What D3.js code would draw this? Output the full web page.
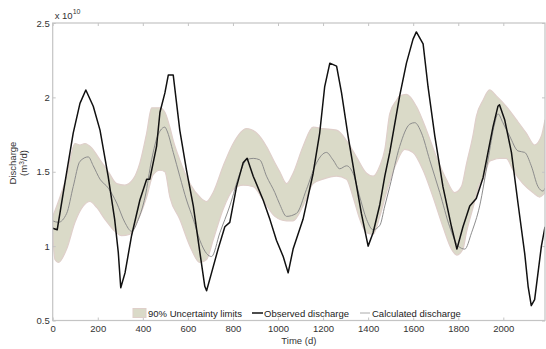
<!DOCTYPE html>
<html>
<head>
<meta charset="utf-8">
<script src="https://cdn.jsdelivr.net/npm/d3@7"></script>
<style>
  body { margin: 0; background: #fff; }
  text { font-family: "Liberation Sans", Arial, sans-serif; }
</style>
</head>
<body>
<svg id="chart" width="546" height="349"></svg>
<script>
// values in units of 1e10 m3/d
const obsDays = [0, 20, 47, 91, 121, 147, 180, 210, 246, 275, 291, 302, 321, 350, 387, 417, 431, 461, 476, 498, 513, 535, 564, 594, 624, 653, 675, 683, 705, 734, 764, 786, 816, 845, 863, 890, 934, 964, 993, 1023, 1045, 1067, 1111, 1156, 1185, 1207, 1230, 1260, 1282, 1311, 1341, 1370, 1400, 1422, 1452, 1474, 1496, 1540, 1570, 1599, 1614, 1644, 1666, 1696, 1732, 1770, 1794, 1821, 1851, 1880, 1910, 1932, 1954, 1976, 1983, 2006, 2036, 2065, 2095, 2110, 2124, 2139, 2154, 2169, 2185];
const obsVals = [1.12, 1.11, 1.36, 1.76, 1.96, 2.05, 1.94, 1.78, 1.47, 1.18, 0.96, 0.72, 0.82, 1.07, 1.31, 1.45, 1.45, 1.67, 1.90, 2.03, 2.15, 2.15, 1.78, 1.51, 1.27, 0.96, 0.73, 0.70, 0.82, 0.98, 1.13, 1.16, 1.40, 1.56, 1.59, 1.47, 1.31, 1.18, 1.04, 0.93, 0.82, 0.98, 1.18, 1.49, 1.76, 2.07, 2.23, 2.21, 2.03, 1.74, 1.47, 1.22, 1.00, 1.09, 1.28, 1.47, 1.63, 2.01, 2.23, 2.39, 2.44, 2.36, 2.07, 1.74, 1.40, 1.13, 0.98, 1.13, 1.27, 1.32, 1.46, 1.63, 1.80, 1.94, 1.95, 1.85, 1.63, 1.29, 0.95, 0.73, 0.60, 0.64, 0.82, 1.00, 1.13];

const calcDays = [0, 25, 62, 91, 121, 158, 180, 210, 247, 284, 320, 350, 380, 410, 439, 468, 498, 506, 535, 564, 594, 624, 653, 683, 705, 742, 786, 831, 860, 890, 919, 949, 986, 1008, 1038, 1082, 1126, 1171, 1215, 1244, 1274, 1304, 1333, 1363, 1393, 1422, 1452, 1474, 1496, 1540, 1585, 1607, 1637, 1673, 1718, 1762, 1800, 1829, 1859, 1895, 1932, 1961, 1976, 1998, 2028, 2065, 2095, 2124, 2154, 2176, 2185];
const calcVals = [1.17, 1.16, 1.22, 1.40, 1.57, 1.60, 1.54, 1.45, 1.39, 1.29, 1.16, 1.10, 1.18, 1.33, 1.58, 1.75, 1.80, 1.78, 1.63, 1.47, 1.31, 1.18, 1.04, 0.95, 0.93, 1.09, 1.27, 1.49, 1.58, 1.59, 1.58, 1.47, 1.36, 1.28, 1.20, 1.22, 1.38, 1.56, 1.63, 1.58, 1.52, 1.54, 1.49, 1.33, 1.18, 1.11, 1.14, 1.27, 1.40, 1.67, 1.82, 1.83, 1.76, 1.58, 1.36, 1.13, 1.00, 0.98, 1.09, 1.27, 1.58, 1.82, 1.89, 1.83, 1.74, 1.64, 1.63, 1.54, 1.40, 1.37, 1.39];

const upperDays = [0, 18, 62, 99, 121, 143, 173, 210, 247, 284, 320, 357, 387, 417, 439, 476, 498, 520, 535, 564, 609, 653, 683, 712, 757, 801, 860, 905, 949, 986, 1008, 1038, 1067, 1111, 1156, 1200, 1260, 1304, 1348, 1393, 1422, 1452, 1474, 1496, 1526, 1540, 1570, 1614, 1659, 1703, 1747, 1784, 1814, 1836, 1866, 1880, 1910, 1939, 1969, 2013, 2058, 2102, 2139, 2169, 2185];
const upperVals = [1.20, 1.27, 1.47, 1.69, 1.68, 1.69, 1.66, 1.58, 1.50, 1.42, 1.41, 1.45, 1.56, 1.76, 1.93, 1.93, 1.90, 1.80, 1.71, 1.58, 1.42, 1.33, 1.30, 1.36, 1.54, 1.69, 1.79, 1.76, 1.67, 1.56, 1.50, 1.42, 1.49, 1.67, 1.80, 1.79, 1.78, 1.71, 1.60, 1.49, 1.47, 1.54, 1.65, 1.89, 1.98, 2.01, 2.02, 1.94, 1.78, 1.60, 1.45, 1.36, 1.40, 1.55, 1.75, 1.87, 1.98, 2.05, 2.01, 1.94, 1.85, 1.76, 1.68, 1.74, 1.85];

const lowerDays = [0, 10, 25, 62, 99, 136, 165, 195, 232, 269, 306, 343, 380, 417, 446, 476, 498, 520, 564, 609, 653, 683, 712, 757, 801, 845, 890, 934, 986, 1038, 1067, 1111, 1156, 1200, 1260, 1304, 1333, 1363, 1393, 1422, 1452, 1481, 1526, 1562, 1599, 1644, 1688, 1732, 1770, 1794, 1821, 1836, 1866, 1895, 1910, 1939, 1954, 1983, 2013, 2043, 2087, 2131, 2161, 2185];
const lowerVals = [1.09, 0.91, 0.89, 0.98, 1.16, 1.27, 1.30, 1.26, 1.18, 1.11, 1.07, 1.08, 1.18, 1.33, 1.48, 1.51, 1.50, 1.33, 1.18, 1.00, 0.89, 0.91, 1.04, 1.25, 1.38, 1.41, 1.40, 1.31, 1.20, 1.17, 1.17, 1.27, 1.42, 1.45, 1.47, 1.45, 1.33, 1.18, 1.09, 1.08, 1.20, 1.36, 1.56, 1.65, 1.63, 1.51, 1.33, 1.13, 0.98, 0.94, 0.98, 1.09, 1.26, 1.42, 1.45, 1.57, 1.58, 1.59, 1.59, 1.51, 1.42, 1.36, 1.33, 1.36];

const xTicks = [0, 200, 400, 600, 800, 1000, 1200, 1400, 1600, 1800, 2000];
const yTicks = [0.5, 1, 1.5, 2, 2.5];
const legendLabels = ["90% Uncertainty limits", "Observed discharge", "Calculated discharge"];

const mLeft = 52.7, mRight = 545, mTop = 23, mBottom = 320.5;
const svg = d3.select("#chart");

const x = d3.scaleLinear().domain([0, 2185]).range([mLeft, mRight]);
const y = d3.scaleLinear().domain([0.5, 2.5]).range([mBottom, mTop]);

svg.append("clipPath").attr("id", "clip")
  .append("rect").attr("x", mLeft).attr("y", mTop)
  .attr("width", mRight - mLeft).attr("height", mBottom - mTop);

const plot = svg.append("g").attr("clip-path", "url(#clip)");

const bandFill = "#dadac8", bandEdge = "#dfcfca";

// uncertainty band: upper edge then lower edge reversed
const smooth = d3.line().x(d => x(d[0])).y(d => y(d[1])).curve(d3.curveMonotoneX);
const upperPath = smooth(upperDays.map((d, i) => [d, upperVals[i]]));
const lowerRev = d3.line().x(d => x(d[0])).y(d => y(d[1])).curve(d3.curveMonotoneX)(
  lowerDays.map((d, i) => [d, lowerVals[i]]).reverse());

plot.append("path")
  .attr("d", upperPath + "L" + lowerRev.slice(1) + "Z")
  .attr("fill", bandFill)
  .attr("stroke", bandEdge)
  .attr("stroke-width", 1.2);

plot.append("path")
  .attr("d", smooth(calcDays.map((d, i) => [d, calcVals[i]])))
  .attr("fill", "none")
  .attr("stroke", "#8c8c8c")
  .attr("stroke-width", 1);

const line = d3.line().x(d => x(d[0])).y(d => y(d[1]));
plot.append("path")
  .attr("d", line(obsDays.map((d, i) => [d, obsVals[i]])))
  .attr("fill", "none")
  .attr("stroke", "#111")
  .attr("stroke-width", 1.5)
  .attr("stroke-linejoin", "round");

// frame
const frameColor = "#c4c4c4";
svg.append("rect")
  .attr("x", mLeft).attr("y", mTop)
  .attr("width", mRight - mLeft).attr("height", mBottom - mTop)
  .attr("fill", "none").attr("stroke", frameColor).attr("stroke-width", 1.2);

const styleAxis = g => {
  g.select(".domain").remove();
  g.selectAll(".tick line").attr("stroke", frameColor);
  g.selectAll(".tick text").attr("fill", "#333").attr("font-size", 9.5)
    .attr("font-family", "'Liberation Sans', Arial, sans-serif");
};

svg.append("g").attr("transform", `translate(0,${mBottom})`)
  .call(d3.axisBottom(x).tickValues(xTicks).tickSize(-3).tickPadding(5).tickFormat(d3.format("d")))
  .call(styleAxis);
svg.append("g").attr("transform", `translate(0,${mTop})`)
  .call(d3.axisTop(x).tickValues(xTicks).tickSize(-3).tickFormat(""))
  .call(styleAxis);
svg.append("g").attr("transform", `translate(${mLeft},0)`)
  .call(d3.axisLeft(y).tickValues(yTicks).tickSize(-3).tickPadding(3).tickFormat(d3.format("")))
  .call(styleAxis);
svg.append("g").attr("transform", `translate(${mRight},0)`)
  .call(d3.axisRight(y).tickValues(yTicks).tickSize(-3).tickFormat(""))
  .call(styleAxis);

// exponent
const ex = svg.append("text").attr("x", mLeft + 2).attr("y", mTop - 4)
  .attr("font-size", 9.5).attr("fill", "#333");
ex.append("tspan").text("x 10");
ex.append("tspan").attr("dy", -5).attr("font-size", 7).text("10");

// axis titles
svg.append("text").attr("x", (mLeft + mRight) / 2).attr("y", 344)
  .attr("text-anchor", "middle").attr("font-size", 9.5).attr("fill", "#333")
  .text("Time (d)");

const yl = svg.append("text")
  .attr("transform", "translate(16,163) rotate(-90)")
  .attr("text-anchor", "middle").attr("font-size", 9.5).attr("fill", "#333");
yl.append("tspan").attr("x", 0).text("Discharge");
const yl2 = yl.append("tspan").attr("x", 0).attr("dy", 11);
yl2.append("tspan").text("(m");
yl2.append("tspan").attr("dy", -3).attr("font-size", 6.5).text("3");
yl2.append("tspan").attr("dy", 3).text("/d)");

// legend
const lg = svg.append("g").attr("font-size", 9.5).attr("fill", "#222");
lg.append("rect").attr("x", 133).attr("y", 308.5).attr("width", 13).attr("height", 9)
  .attr("fill", bandFill).attr("stroke", bandEdge);
lg.append("text").attr("x", 148).attr("y", 316.5).text(legendLabels[0]);
lg.append("line").attr("x1", 252).attr("x2", 263).attr("y1", 313).attr("y2", 313)
  .attr("stroke", "#111").attr("stroke-width", 1.5);
lg.append("text").attr("x", 264).attr("y", 316.5).text(legendLabels[1]);
lg.append("line").attr("x1", 360).attr("x2", 370).attr("y1", 313).attr("y2", 313)
  .attr("stroke", "#aaa").attr("stroke-width", 1);
lg.append("text").attr("x", 372).attr("y", 316.5).text(legendLabels[2]);
</script>
</body>
</html>
